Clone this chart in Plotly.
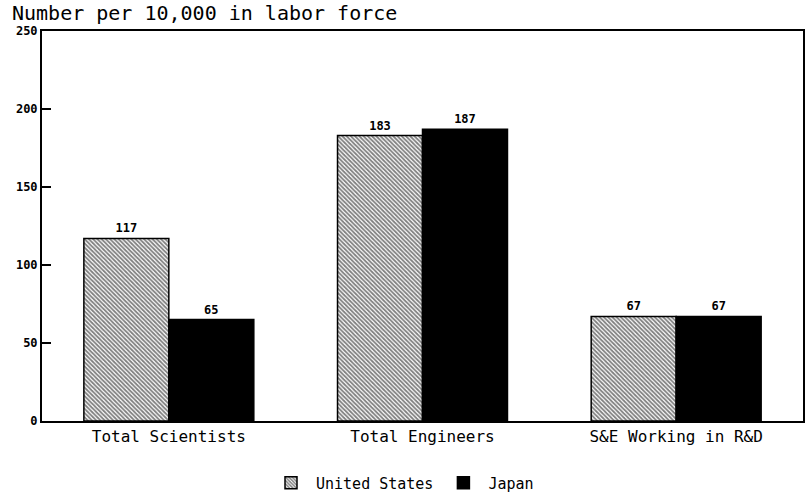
import plotly.graph_objects as go

categories = ["Total Scientists", "Total Engineers", "S&E Working in R&D"]
us_values = [117, 183, 67]
japan_values = [65, 187, 67]
y_ticks = [0, 50, 100, 150, 200, 250]

FONT = "DejaVu Sans Mono"

fig = go.Figure()
fig.add_trace(go.Bar(
    x=categories, y=us_values, name="United States",
    text=[str(v) for v in us_values], textposition="outside",
    textfont=dict(family=FONT, size=12, color="black", weight="bold"),
    marker=dict(color="white", line=dict(color="black", width=1.5),
                pattern=dict(shape="\\", fgcolor="black", bgcolor="white",
                             size=3, solidity=0.6)),
    cliponaxis=False,
))
fig.add_trace(go.Bar(
    x=categories, y=japan_values, name="Japan",
    text=[str(v) for v in japan_values], textposition="outside",
    textfont=dict(family=FONT, size=12, color="black", weight="bold"),
    marker=dict(color="black", line=dict(color="black", width=1.5)),
    cliponaxis=False,
))

fig.update_layout(
    width=805, height=492,
    paper_bgcolor="white", plot_bgcolor="white",
    margin=dict(l=42, r=2, t=31, b=71, autoexpand=False),
    barmode="group", bargap=0.33, bargroupgap=0,
    font=dict(family=FONT, color="black"),
    title=dict(text="Number per 10,000 in labor force",
               x=12 / 805, xref="container", xanchor="left",
               y=1 - 13 / 492, yref="container", yanchor="middle",
               font=dict(family=FONT, size=20, color="black")),
    showlegend=True,
    legend=dict(orientation="h", xref="container", yref="container",
                x=0.5, xanchor="center", y=1 - 483 / 492, yanchor="middle",
                font=dict(family=FONT, size=15, color="black"),
                itemwidth=40, traceorder="normal"),
)
fig.update_xaxes(showline=True, linecolor="black", linewidth=2, mirror=True,
                 ticks="", showgrid=False, automargin=False,
                 tickfont=dict(family=FONT, size=16, color="black"))
fig.update_yaxes(range=[0, 250], tickvals=y_ticks, showline=True,
                 linecolor="black", linewidth=2, mirror=True,
                 ticks="", showgrid=False, zeroline=False, automargin=False,
                 tickfont=dict(family=FONT, size=12, color="black", weight="bold"))

# inward tick marks on the left axis, placed at the tick values via the y scale
for t in y_ticks[1:-1]:
    fig.add_shape(type="line", xref="paper", yref="y",
                  xsizemode="pixel", xanchor=0, x0=0, x1=9,
                  y0=t, y1=t, line=dict(color="black", width=2), layer="above")

fig.write_html("out.html", config={"displayModeBar": False},
               post_script="document.body.style.margin='0';document.body.style.padding='0';")
